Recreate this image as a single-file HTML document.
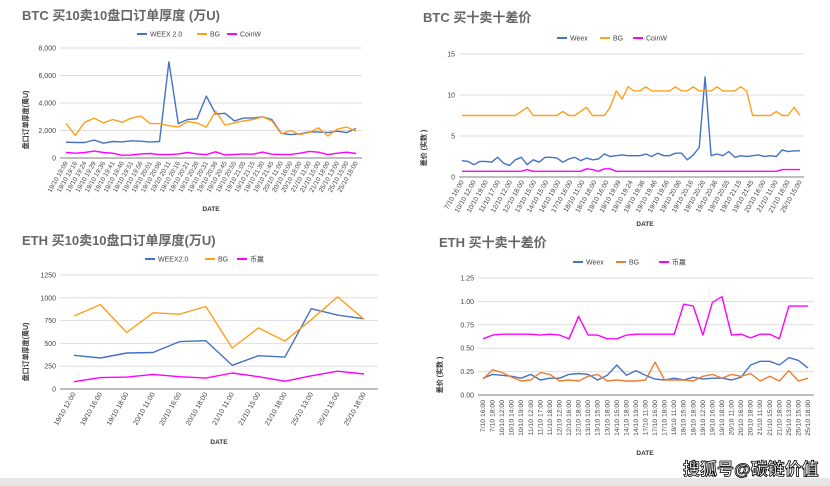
<!DOCTYPE html>
<html><head><meta charset="utf-8"><style>
html,body{margin:0;padding:0;background:#fff;}
svg{display:block;font-family:"Liberation Sans","Noto Sans CJK SC",sans-serif;}
</style></head><body>
<svg id="s" width="830" height="486" xmlns="http://www.w3.org/2000/svg">
<rect width="830" height="486" fill="#fff"/>
<rect x="0" y="478" width="830" height="8" fill="#e6e6e6"/>
</svg>
<script>
const S=document.getElementById('s');const NS='http://www.w3.org/2000/svg';
function el(t,a,txt){const e=document.createElementNS(NS,t);for(const k in a)e.setAttribute(k,a[k]);if(txt!==undefined)e.textContent=txt;S.appendChild(e);return e;}
function chart(c){
 el('text',{x:c.tx,y:c.ty,'font-size':13,'font-weight':'bold',fill:'#666'},c.title);
 // grid
 c.ticks.forEach((t,i)=>{const y=c.y0+(c.y1-c.y0)*t/c.max;
  el('line',{x1:c.gl,x2:c.gr,y1:y,y2:y,stroke:i==0?'#999':'#ddd','stroke-width':i==0?1.3:1});
  el('text',{x:c.gl-4,y:y+2.5,'font-size':7,fill:'#444','text-anchor':'end'},c.tl[i]);});
 // legend
 let lx=c.lx;c.series.forEach(s=>{el('line',{x1:lx,x2:lx+10,y1:c.ly,y2:c.ly,stroke:s.c,'stroke-width':2});
  el('text',{x:lx+13,y:c.ly+2.5,'font-size':7,fill:'#444'},s.n);lx+=s.w;});
 // series
 c.series.forEach(s=>{const n=s.d.length;const pts=s.d.map((v,i)=>(c.xa+(c.xb-c.xa)*i/(n-1)).toFixed(1)+','+(c.y0+(c.y1-c.y0)*v/c.max).toFixed(1)).join(' ');
  el('polyline',{points:pts,fill:'none',stroke:s.c,'stroke-width':1.4,'stroke-linejoin':'round'});});
 // xlabels
 const n=c.xl.length;c.xl.forEach((l,i)=>{const x=c.xa+(c.xb-c.xa)*i/(n-1);
  el('text',{x:x+2,y:c.y0+5,'font-size':c.xfs||6.5,fill:'#444','text-anchor':'end',transform:`rotate(${c.rot} ${x+2} ${c.y0+5})`},l);});
 el('text',{x:c.dx,y:c.dy,'font-size':6.5,'font-weight':'bold',fill:'#333','text-anchor':'middle'},'DATE');
 el('text',{x:c.yx,y:c.yy,'font-size':7,'font-weight':'bold',fill:'#333','text-anchor':'middle',transform:`rotate(-90 ${c.yx} ${c.yy})`},c.yt);
}
const B='#4472c4',O='#ff9f1a',M='#ff00ff';
chart({title:'BTC 买10卖10盘口订单厚度 (万U)',tx:22,ty:20,max:8000,ticks:[0,2000,4000,6000,8000],tl:['0','2,000','4,000','6,000','8,000'],
 y0:158,y1:48,gl:60,gr:362,xa:66,xb:356,lx:137,ly:34,rot:-60,dx:211,dy:211,yx:28,yy:120,yt:'盘口订单厚度(萬U)',
 series:[{n:'WEEX 2.0',c:B,w:60,d:[1150,1130,1130,1300,1080,1200,1170,1250,1220,1160,1200,7000,2500,2800,2850,4500,3200,3250,2700,2900,2900,3000,2800,1800,1700,1750,1900,1900,1850,1950,1850,2150]},
 {n:'BG',c:O,w:30,d:[2500,1650,2600,2900,2550,2800,2600,2900,3050,2500,2500,2350,2250,2650,2550,2250,3400,2400,2550,2700,2800,3000,2700,1750,2000,1700,1850,2200,1600,2100,2250,1950]},
 {n:'CoinW',c:M,w:40,d:[400,350,400,500,400,350,200,220,300,330,250,250,300,400,300,250,450,220,260,300,280,430,280,250,260,350,480,420,250,350,420,330]}],
 xl:['19/10 19:09','19/10 19:16','19/10 19:24','19/10 19:29','19/10 19:36','19/10 19:41','19/10 19:46','19/10 19:51','19/10 19:56','19/10 20:01','19/10 20:06','19/10 20:11','19/10 20:16','19/10 20:21','19/10 20:26','19/10 20:31','19/10 20:36','19/10 20:45','19/10 20:55','19/10 21:05','19/10 21:15','19/10 21:30','19/10 21:45','20/10 11:00','20/10 16:00','20/10 18:00','21/10 11:00','21/10 15:00','21/10 18:00','25/10 13:00','25/10 15:00','25/10 18:00']});
chart({title:'BTC 买十卖十差价',tx:423,ty:22,max:15,ticks:[0,5,10,15],tl:['0','5','10','15'],
 y0:177,y1:54,gl:459,gr:804,xa:462,xb:800,lx:557,ly:38,rot:-60,xfs:6.8,dx:645,dy:226,yx:426,yy:148,yt:'差价 (实数 )',
 series:[{n:'Weex',c:B,w:43,d:[2,1.9,1.5,1.9,1.9,1.8,2.4,1.7,1.4,2.1,2.4,1.5,2.1,1.8,2.4,2.4,2.3,1.8,2.2,2.4,2,2.3,2.1,2.2,2.8,2.5,2.6,2.7,2.6,2.6,2.6,2.8,2.5,2.9,2.6,2.6,2.9,2.9,2.1,2.7,3.6,12.2,2.6,2.8,2.6,3.1,2.4,2.6,2.5,2.6,2.7,2.5,2.6,2.5,3.3,3.1,3.2,3.2]},
 {n:'BG',c:O,w:33,d:[7.5,7.5,7.5,7.5,7.5,7.5,7.5,7.5,7.5,7.5,8,8.5,7.5,7.5,7.5,7.5,7.5,8,7.5,7.5,8,8.5,7.5,7.5,7.5,8.5,10.5,9.5,11,10.5,10.5,11,10.5,10.5,10.5,10.5,11,10.5,10.5,11,10.5,10.5,10.5,11,10.5,10.5,10.5,11,10.5,7.5,7.5,7.5,7.5,8,7.5,7.5,8.5,7.5]},
 {n:'CoinW',c:M,w:40,d:[0.7,0.7,0.7,0.7,0.7,0.7,0.7,0.7,0.7,0.7,0.7,0.9,0.7,0.7,0.7,0.7,0.7,0.7,0.7,0.7,0.7,1,0.9,0.7,1,1,0.7,0.7,0.7,0.7,0.7,0.7,0.7,0.7,0.7,0.7,0.7,0.7,0.7,0.7,0.7,0.7,0.7,0.7,0.7,0.7,0.7,0.7,0.7,0.7,0.7,0.7,0.7,0.7,0.9,0.9,0.9,0.9]}],
 xl:['7/10 16:00','10/10 12:00','10/10 19:00','11/10 17:00','12/10 12:00','12/10 18:00','13/10 15:00','14/10 15:00','14/10 19:00','17/10 16:00','18/10 11:00','18/10 18:00','19/10 16:00','19/10 19:09','19/10 19:24','19/10 19:36','19/10 19:46','19/10 19:56','19/10 20:06','19/10 20:16','19/10 20:26','19/10 20:36','19/10 20:55','19/10 21:15','19/10 21:45','20/10 16:00','21/10 11:00','21/10 18:00','25/10 15:00']});
chart({title:'ETH 买10卖10盘口订单厚度(万U)',tx:22,ty:245,max:1250,ticks:[0,250,500,750,1000,1250],tl:['0','250','500','750','1000','1250'],
 y0:389,y1:275,gl:60,gr:378,xa:74,xb:364,lx:145,ly:259,rot:-60,xfs:7,dx:219,dy:444,yx:28,yy:352,yt:'盘口订单厚度(萬U)',
 series:[{n:'WEEX2.0',c:B,w:60,d:[370,340,395,400,520,530,260,365,350,880,810,770]},
 {n:'BG',c:O,w:32,d:[800,925,620,835,820,905,450,670,525,760,1010,765]},
 {n:'币赢',c:M,w:30,d:[80,125,130,160,135,120,175,135,85,145,195,165]}],
 xl:['19/10 12:00','19/10 16:00','19/10 18:00','20/10 11:00','20/10 16:00','20/10 18:00','21/10 11:00','21/10 15:00','21/10 18:00','25/10 13:00','25/10 15:00','25/10 18:00']});
chart({title:'ETH 买十卖十差价',tx:439,ty:247,max:1.25,ticks:[0,0.25,0.5,0.75,1,1.25],tl:['0.00','0.25','0.50','0.75','1.00','1.25'],
 y0:395,y1:278,gl:478,gr:814,xa:483,xb:808,lx:573,ly:262,rot:-90,xfs:6.8,dx:645,dy:455,yx:442,yy:375,yt:'差价 (实数 )',
 series:[{n:'Weex',c:B,w:43,d:[.18,.22,.21,.20,.18,.22,.16,.18,.18,.22,.23,.22,.16,.21,.32,.21,.26,.21,.17,.16,.18,.16,.19,.17,.18,.18,.16,.19,.32,.36,.36,.32,.40,.37,.29]},
 {n:'BG',c:'#ed7d31',w:43,d:[.17,.27,.24,.19,.15,.16,.24,.22,.15,.16,.15,.20,.22,.15,.16,.15,.15,.16,.35,.16,.16,.16,.15,.20,.22,.18,.22,.20,.23,.15,.20,.15,.26,.15,.18]},
 {n:'币赢',c:M,w:30,d:[.60,.64,.65,.65,.65,.65,.64,.65,.64,.60,.84,.64,.64,.60,.60,.64,.65,.65,.65,.65,.65,.97,.95,.64,.99,1.05,.64,.65,.61,.65,.65,.60,.95,.95,.95]}],
 xl:['7/10 16:00','7/10 18:00','10/10 12:00','10/10 14:00','10/10 19:00','11/10 12:00','11/10 17:00','11/10 18:00','12/10 12:00','12/10 16:00','12/10 18:00','13/10 10:00','13/10 15:00','13/10 18:00','14/10 15:00','14/10 18:00','14/10 19:00','17/10 11:00','17/10 16:00','17/10 18:00','18/10 11:00','18/10 15:00','18/10 18:00','19/10 12:00','19/10 16:00','19/10 18:00','20/10 11:00','20/10 16:00','20/10 18:00','21/10 11:00','21/10 15:00','21/10 18:00','25/10 13:00','25/10 15:00','25/10 18:00']});
el('text',{x:683,y:475,'font-size':17,'font-weight':'bold',fill:'#fff',stroke:'#000','stroke-width':0.8},'搜狐号@碳链价值');
</script>
</body></html>
